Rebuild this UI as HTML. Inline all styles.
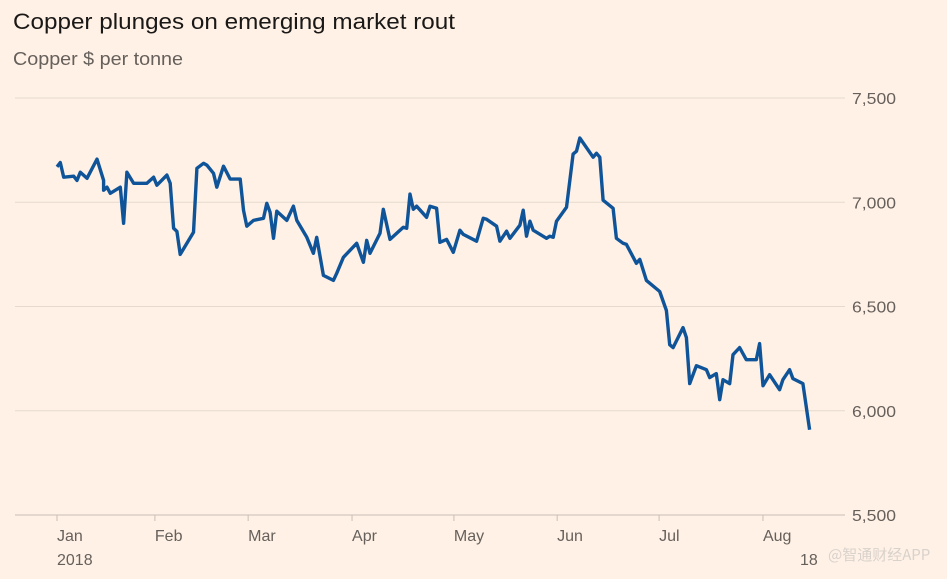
<!DOCTYPE html>
<html><head><meta charset="utf-8">
<style>
body{margin:0;background:#fff1e5;width:947px;height:574px;overflow:hidden;font-family:"Liberation Sans","Noto Sans CJK SC",sans-serif}
</style></head>
<body>
<svg id="chart" width="947" height="574" xmlns="http://www.w3.org/2000/svg">
<rect width="947" height="574" fill="#fff1e5"/>
<text x="13" y="29" font-size="22" fill="#1a1817" textLength="442" lengthAdjust="spacingAndGlyphs" font-family="Liberation Sans, sans-serif">Copper plunges on emerging market rout</text>
<text x="13" y="65" font-size="18" fill="#66605c" textLength="170" lengthAdjust="spacingAndGlyphs" font-family="Liberation Sans, sans-serif">Copper $ per tonne</text>
<g id="grid"></g><g id="xaxis"></g><path id="line" fill="none" stroke="#0f5499" stroke-width="3.4" stroke-linejoin="round"/>
<text x="828" y="560" font-size="15" fill="#d8d2cc" font-family="Noto Sans CJK SC, sans-serif">@智通财经APP</text>
</svg>
<script>
const days=[0,1,2,5,6,7,9,12,14,14,15,16,19,20,21,23,27,29,30,33,34,35,36,37,41,42,44,45,47,48,50,52,55,56,57,59,62,63,64,65,66,69,71,72,75,77,78,80,83,84,86,90,92,93,94,97,98,100,104,105,106,107,108,111,112,114,115,117,119,121,122,126,128,129,132,133,135,136,139,140,141,142,143,147,148,149,150,153,155,156,157,161,162,163,164,167,168,170,171,174,175,177,181,183,184,185,188,189,190,192,195,196,198,199,200,202,203,205,207,210,211,212,214,217,218,220,221,224,226];
const prices=[7170,7190,7120,7125,7105,7144,7115,7207,7105,7058,7072,7043,7072,6899,7144,7091,7091,7120,7082,7130,7091,6875,6860,6750,6856,7163,7187,7178,7139,7072,7173,7111,7111,6962,6885,6913,6923,6995,6952,6827,6957,6913,6981,6913,6832,6755,6832,6649,6625,6659,6736,6803,6712,6817,6755,6851,6966,6822,6880,6875,7039,6966,6981,6928,6981,6971,6808,6822,6760,6866,6846,6813,6923,6918,6885,6813,6861,6827,6890,6962,6837,6909,6866,6827,6837,6832,6909,6976,7231,7245,7308,7216,7235,7216,7010,6971,6827,6803,6798,6707,6726,6625,6572,6481,6317,6303,6399,6351,6130,6216,6197,6159,6178,6053,6149,6130,6269,6303,6245,6245,6322,6120,6173,6101,6149,6197,6154,6130,5909];
const yTicks=[5500,6000,6500,7000,7500];
const yTickLabels=["5,500","6,000","6,500","7,000","7,500"];
const monthDays=[0,29.4,57.4,88.6,119.2,150.2,180.8,212];
const monthLabels=["Jan","Feb","Mar","Apr","May","Jun","Jul","Aug"];
const NS="http://www.w3.org/2000/svg";
const x=d=>57+d*3.33;
const y=v=>515-(v-5500)*0.2085;
const grid=document.getElementById('grid'),xa=document.getElementById('xaxis');
function mk(tag,attrs,parent,txt){const e=document.createElementNS(NS,tag);for(const k in attrs)e.setAttribute(k,attrs[k]);if(txt!==undefined)e.textContent=txt;parent.appendChild(e);return e;}
yTicks.forEach((v,i)=>{
  const l=mk('line',{x1:15,x2:845,y1:y(v),y2:y(v),stroke:i===0?'#c9bfb6':'#e6d9ce','stroke-width':1},grid);
  
  
  const t=mk('text',{x:852,y:y(v)+6,'font-size':16,fill:'#66605c',textLength:44,lengthAdjust:'spacingAndGlyphs'},grid,yTickLabels[i]);
  
  
});
monthDays.forEach((d,i)=>{
  const tk=mk('line',{x1:x(d),x2:x(d),y1:515,y2:521,stroke:'#c9bfb6'},xa);
  
  
  const t=mk('text',{x:x(d),y:541,'font-size':16,fill:'#66605c'},xa,monthLabels[i]);
  
  
});
const y1=mk('text',{x:57,y:565,'font-size':16,fill:'#66605c'},xa,'2018');


const y2=mk('text',{x:800,y:565,'font-size':16,fill:'#66605c'},xa,'18');


document.getElementById('line').setAttribute('d',days.map((d,i)=>(i?'L':'M')+x(d).toFixed(1)+','+y(prices[i]).toFixed(1)).join(''));
</script>
</body></html>
